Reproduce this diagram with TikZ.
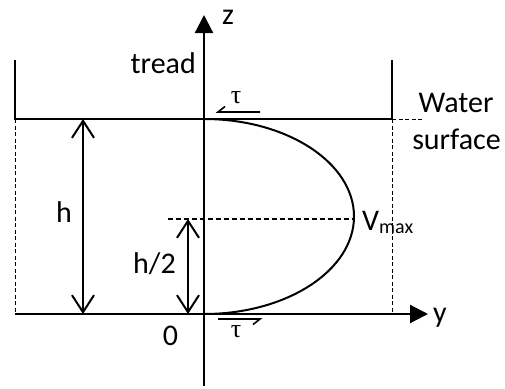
\documentclass[tikz,border=0pt]{standalone}
\usepackage{fontspec}
\setmainfont{Carlito}
\newfontfamily\taufont{Liberation Serif}
\usetikzlibrary{arrows.meta}
\begin{document}
\begin{tikzpicture}[x=1pt,y=-1pt,
  wall/.style={line width=2pt},
  axisline/.style={line width=2.2pt,-{Triangle[length=18pt,width=18pt]}},
  dimline/.style={line width=2pt,{Straight Barb[length=17pt,width=22pt]}-{Straight Barb[length=17pt,width=22pt]}},
  thindash/.style={line width=0.9pt,dash pattern=on 4pt off 2.5pt},
  thickdash/.style={line width=2pt,dash pattern=on 5pt off 3pt},
  harp/.style={line width=1.6pt},
  lbl/.style={inner sep=0pt,font=\fontsize{30}{37}\selectfont},
  taulbl/.style={inner sep=0pt,font=\taufont\fontsize{26}{26}\selectfont}]
\useasboundingbox (0,0) rectangle (505,388);
% key points
\coordinate (O) at (204,314);
\coordinate (zbot) at (204,386);
\coordinate (ztop) at (204,15);
\coordinate (yleft) at (15,314);
\coordinate (ytip) at (428,314);
\coordinate (TL) at (15,119);
\coordinate (TR) at (392,119);
\coordinate (WL) at (15,60);
\coordinate (WR) at (392,60);
\coordinate (BR) at (392,314);
\coordinate (Wend) at (422,119);
\coordinate (htop) at (83,119);
\coordinate (hbot) at (83,314);
\coordinate (h2top) at (188,219);
\coordinate (h2bot) at (188,314);
\coordinate (mstart) at (168,219);
\coordinate (mend) at (354,219);
\coordinate (Ptop) at (204,119);
% walls and surface
\draw[wall] (WL) -- (TL) -- (TR) -- (WR);
% dashed side lines
\draw[thindash] (TL) -- (yleft);
\draw[thindash] (TR) -- (BR);
\draw[thindash] (TR) -- (Wend);
% axes
\draw[axisline] (yleft) -- (ytip);
\draw[axisline] (zbot) -- (ztop);
% velocity profile
\draw[line width=2pt] (Ptop) arc[start angle=-90,end angle=90,x radius=150,y radius=97.5];
% Vmax level
\draw[thickdash] (mstart) -- (mend);
% dimension arrows
\draw[dimline] (htop) -- (hbot);
\draw[dimline] (h2top) -- (h2bot);
% shear stress harpoons
\coordinate (t1a) at (260,112);
\coordinate (t1b) at (218,112);
\coordinate (t1c) at (225,106.5);
\draw[harp] (t1a) -- (t1b) -- (t1c);
\coordinate (t2a) at (218,319);
\coordinate (t2b) at (260,319);
\coordinate (t2c) at (253,324.5);
\draw[harp] (t2a) -- (t2b) -- (t2c);
% labels
\node[lbl,anchor=base west] (zl) at (222,24) {z};
\node[lbl,anchor=base east] (tread) at (196,73) {tread};
\node[lbl,anchor=base] (water) at (456,112) {Water};
\node[lbl,anchor=base] (surf) at (456.5,149) {surface};
\node[lbl,anchor=base] (hl) at (64,222) {h};
\node[lbl,anchor=base] (h2l) at (154.5,273) {h/2};
\node[lbl,anchor=base] (zero) at (170.5,345) {0};
\node[lbl,anchor=base] (yl) at (440,322) {y};
\node[lbl,anchor=base west] (vmax) at (362,230) {V\raisebox{-3pt}{\fontsize{20}{20}\selectfont max}};
\node[taulbl,anchor=base] (tau1) at (236,103) {τ};
\node[taulbl,anchor=base] (tau2) at (236,337) {τ};
\end{tikzpicture}
\end{document}
